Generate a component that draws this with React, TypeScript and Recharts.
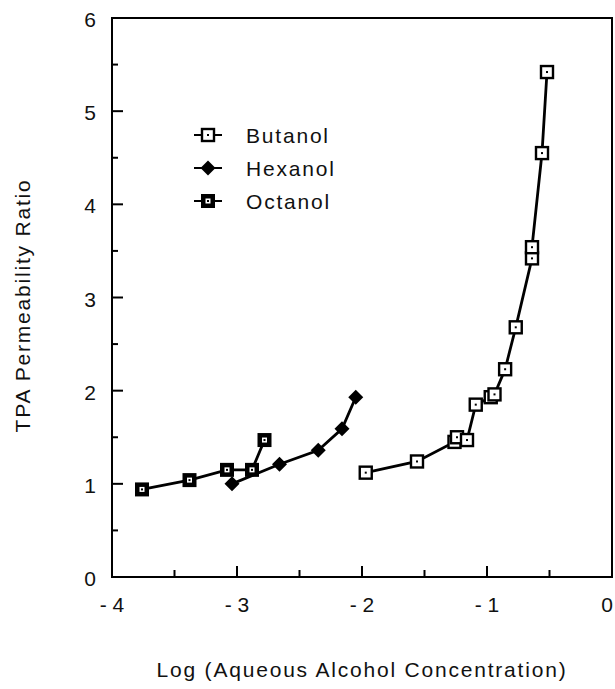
import React from "react"
import {
  ScatterChart,
  Scatter,
  XAxis,
  YAxis,
  ReferenceArea,
  Legend,
} from "recharts"

const butanolLog = [-1.97, -1.56, -1.26, -1.24, -1.16, -1.09, -0.97, -0.94, -0.855, -0.77, -0.64, -0.64, -0.56, -0.52]
const butanolRatio = [1.12, 1.24, 1.45, 1.5, 1.47, 1.85, 1.93, 1.96, 2.23, 2.68, 3.42, 3.54, 4.55, 5.42]

const hexanolLog = [-3.04, -2.66, -2.35, -2.16, -2.05]
const hexanolRatio = [1.0, 1.21, 1.36, 1.59, 1.93]

const octanolLog = [-3.76, -3.38, -3.08, -2.88, -2.78]
const octanolRatio = [0.94, 1.04, 1.15, 1.15, 1.47]

const xTicks = [-4, -3.5, -3, -2.5, -2, -1.5, -1, -0.5, 0]
const yTicks = [0, 0.5, 1, 1.5, 2, 2.5, 3, 3.5, 4, 4.5, 5, 5.5, 6]

const seriesNames = ["Butanol", "Hexanol", "Octanol"]

const toPoints = (xs: number[], ys: number[]) => xs.map((x, i) => ({ x, y: ys[i] }))

const butanol = toPoints(butanolLog, butanolRatio)
const hexanol = toPoints(hexanolLog, hexanolRatio)
const octanol = toPoints(octanolLog, octanolRatio)

const FONT = "'Liberation Sans', Arial, Helvetica, sans-serif"
const SPACING = 1.8

function OpenSquare({ cx, cy }: any) {
  return (
    <g>
      <rect x={cx - 6} y={cy - 6} width={12} height={12} fill="#fff" stroke="#000" strokeWidth={2.4} />
      <rect x={cx - 1} y={cy - 1} width={2} height={2} fill="#000" />
    </g>
  )
}

function Diamond({ cx, cy }: any) {
  const r = 7.5
  return <polygon points={`${cx},${cy - r} ${cx + r},${cy} ${cx},${cy + r} ${cx - r},${cy}`} fill="#000" />
}

function DarkSquare({ cx, cy }: any) {
  return (
    <g>
      <rect x={cx - 7} y={cy - 7} width={14} height={14} fill="#000" />
      <rect x={cx - 2.5} y={cy - 2.5} width={5} height={5} fill="#fff" />
      <rect x={cx - 1} y={cy - 1} width={2} height={2} fill="#000" />
    </g>
  )
}

const markers = [OpenSquare, Diamond, DarkSquare]

function XTick({ x, y, payload }: any) {
  const v = payload.value
  const major = Number.isInteger(v)
  return (
    <g>
      <line x1={x} x2={x} y1={y} y2={y - (major ? 11 : 7)} stroke="#000" strokeWidth={2} />
      {major && (
        <text
          x={v === 0 ? x + 1 : x}
          y={y + 35}
          textAnchor={v === 0 ? "end" : "middle"}
          fontSize={21}
          fontFamily={FONT}
          fill="#111"
        >
          {v < 0 ? `- ${Math.abs(v)}` : v}
        </text>
      )}
    </g>
  )
}

function YTick({ x, y, payload }: any) {
  const major = Number.isInteger(payload.value)
  return (
    <g>
      <line x1={x} x2={x + (major ? 11 : 6)} y1={y} y2={y} stroke="#000" strokeWidth={2} />
      {major && (
        <text x={x - 16} y={y + 9} textAnchor="end" fontSize={21} fontFamily={FONT} fill="#111">
          {payload.value}
        </text>
      )}
    </g>
  )
}

function LegendBox() {
  return (
    <svg width={200} height={110}>
      {seriesNames.map((name, i) => {
        const Marker = markers[i]
        const cy = 19 + i * 33
        return (
          <g key={name}>
            <line x1={4} x2={32} y1={cy} y2={cy} stroke="#000" strokeWidth={2} />
            <Marker cx={18} cy={cy} />
            <text x={56} y={cy + 8} fontSize={21} letterSpacing={SPACING} fontFamily={FONT} fill="#111">
              {name}
            </text>
          </g>
        )
      })}
    </svg>
  )
}

export default function App() {
  return (
    <div style={{ position: "absolute", left: 0, top: 0, background: "#fff" }}>
      <ScatterChart width={615} height={689} margin={{ top: 18, right: 3, bottom: 0, left: 0 }}>
        <XAxis
          type="number"
          dataKey="x"
          domain={[-4, 0]}
          ticks={xTicks}
          interval={0}
          height={112}
          axisLine={false}
          tickLine={false}
          tickSize={0}
          tickMargin={0}
          tick={<XTick />}
          allowDataOverflow
          label={{
            content: ({ viewBox }: any) => (
              <text
                x={viewBox.x + viewBox.width / 2}
                y={viewBox.y + 100}
                textAnchor="middle"
                fontSize={21}
                letterSpacing={SPACING}
                fontFamily={FONT}
                fill="#111"
              >
                Log (Aqueous Alcohol Concentration)
              </text>
            ),
          }}
        />
        <YAxis
          type="number"
          dataKey="y"
          domain={[0, 6]}
          ticks={yTicks}
          interval={0}
          width={112}
          axisLine={false}
          tickLine={false}
          tickSize={0}
          tickMargin={0}
          tick={<YTick />}
          allowDataOverflow
          label={{
            content: ({ viewBox }: any) => {
              const lx = viewBox.x + 22
              const ly = viewBox.y + viewBox.height / 2 + 8
              return (
                <text
                  x={lx}
                  y={ly}
                  transform={`rotate(-90, ${lx}, ${ly})`}
                  textAnchor="middle"
                  dominantBaseline="central"
                  fontSize={21}
                  letterSpacing={SPACING}
                  fontFamily={FONT}
                  fill="#111"
                >
                  TPA Permeability Ratio
                </text>
              )
            },
          }}
        />
        <ReferenceArea x1={-4} x2={0} y1={0} y2={6} fill="none" stroke="#000" strokeWidth={2} ifOverflow="visible" />
        <Scatter
          name="Butanol"
          data={butanol}
          line={{ stroke: "#000", strokeWidth: 2.8 }}
          lineType="joint"
          shape={<OpenSquare />}
          isAnimationActive={false}
        />
        <Scatter
          name="Hexanol"
          data={hexanol}
          line={{ stroke: "#000", strokeWidth: 2.8 }}
          lineType="joint"
          shape={<Diamond />}
          isAnimationActive={false}
        />
        <Scatter
          name="Octanol"
          data={octanol}
          line={{ stroke: "#000", strokeWidth: 2.8 }}
          lineType="joint"
          shape={<DarkSquare />}
          isAnimationActive={false}
        />
        <Legend
          layout="vertical"
          align="center"
          verticalAlign="middle"
          content={<LegendBox />}
          wrapperStyle={{ top: 116, left: 190, width: 200 }}
        />
      </ScatterChart>
    </div>
  )
}
